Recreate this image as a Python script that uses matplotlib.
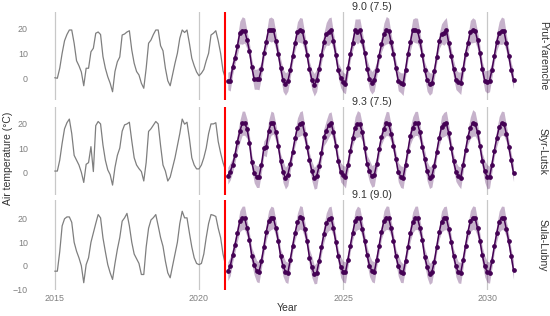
import numpy as np
import matplotlib.pyplot as plt
import matplotlib.transforms as mtransforms

plt.rcParams['font.family'] = ['Liberation Sans', 'DejaVu Sans']

stations = ['Prut-Yaremche', 'Styr-Lutsk', 'Sula-Lubny']
labels = ['9.0 (7.5)', '9.3 (7.5)', '9.1 (9.0)']

# observed monthly air temperature, Jan 2015 - Dec 2020
obs_prut = [0.2, 0.0, 4.0, 10.0, 15.0, 17.5, 19.3, 19.3, 14.0, 7.0, 5.0, 2.5,
            -3.0, 4.0, 4.0, 10.6, 12.0, 18.0, 18.5, 17.5, 8.7, 4.0, 0.6, -2.0,
            -5.4, 2.7, 6.6, 8.5, 17.3, 17.7, 18.5, 19.0, 11.3, 6.0, 2.7, 1.3,
            -2.0, -4.0, 4.0, 14.0, 15.3, 17.5, 19.3, 19.3, 13.0, 11.0, 4.0, -1.0,
            -3.0, 1.5, 6.0, 10.0, 16.0, 19.3, 18.3, 19.3, 14.0, 8.0, 5.0, 2.5,
            1.0, 2.0, 3.5, 7.0, 10.0, 17.3, 18.0, 19.0, 15.0, 10.0, 3.0, 0.0]
obs_styr = [0.5, 0.5, 5.0, 12.0, 18.0, 20.5, 22.0, 16.0, 7.0, 5.0, 3.0, 0.0,
            -4.2, 3.3, 4.0, 10.6, 0.3, 19.3, 21.0, 20.0, 11.3, 5.0, 1.0, -1.0,
            -5.3, 2.0, 7.0, 10.0, 17.0, 19.6, 20.0, 20.7, 13.0, 6.0, 3.0, 1.5,
            0.3, -3.6, 4.1, 16.9, 18.0, 19.5, 21.0, 20.0, 11.0, 3.0, 0.5, -3.6,
            -2.0, 2.0, 6.0, 11.0, 16.0, 22.0, 19.9, 20.7, 14.0, 6.0, 3.0, 1.4,
            1.4, 3.0, 6.0, 10.0, 16.0, 20.0, 20.0, 20.5, 12.7, 8.0, 4.0, 1.0]
obs_sula = [-2.3, -2.3, 6.0, 17.0, 20.0, 20.8, 20.8, 18.5, 10.0, 6.2, 3.4, 0.0,
            -7.2, 0.5, 3.4, 10.0, 14.0, 18.0, 21.8, 20.4, 11.9, 6.0, 0.5, -3.0,
            -5.8, 1.0, 7.0, 12.0, 19.0, 20.4, 22.3, 17.0, 10.0, 5.0, 3.0, 1.0,
            -3.7, -3.7, 8.0, 16.0, 19.5, 20.5, 21.8, 17.0, 12.0, 8.3, 2.0, -3.0,
            -5.1, 0.0, 5.0, 10.0, 18.0, 23.2, 20.4, 20.4, 14.0, 8.0, 3.4, 1.0,
            0.5, 1.0, 5.0, 12.0, 18.0, 21.8, 21.5, 21.0, 16.0, 12.0, 5.0, 0.5]

# forecast monthly mean, Jan 2021 - Dec 2030
fc_prut = [-1.1, -1.1, 4.4, 8.3, 12.9, 18.3, 19.1, 19.1, 15.3, 11.0, 4.4, -0.4,
           -0.4, -0.1, 3.6, 10.0, 14.7, 19.5, 19.5, 19.3, 15.0, 9.8, 4.2, -0.8,
           -2.3, -1.2, 3.2, 8.8, 14.2, 18.6, 19.3, 19.0, 14.6, 9.4, 3.6, -0.6,
           -2.6, -0.8, 3.8, 9.2, 14.6, 17.8, 18.6, 19.5, 14.8, 9.2, 3.2, 0.2,
           -1.6, -2.2, 4.0, 9.6, 14.2, 19.2, 18.7, 19.3, 15.1, 10.1, 3.9, -0.2,
           -1.8, -0.6, 3.5, 9.0, 13.6, 17.6, 19.2, 19.0, 14.4, 9.6, 4.1, -1.0,
           -1.8, -2.4, 3.3, 9.8, 14.4, 19.2, 19.2, 19.0, 15.0, 9.3, 3.4, -0.7,
           -2.3, -1.9, 2.8, 8.6, 14.8, 17.8, 18.2, 19.3, 14.1, 9.0, 3.8, -0.5,
           -1.5, -2.0, 3.6, 9.8, 14.0, 18.6, 19.2, 19.0, 15.2, 10.0, 3.6, -1.0,
           -1.4, -0.9, 3.4, 9.0, 14.6, 18.2, 19.0, 19.0, 14.0, 9.0, 3.3, -0.7]
fc_styr = [-1.4, 0.3, 3.0, 7.2, 12.7, 16.9, 20.3, 20.3, 18.0, 12.3, 4.1, -0.4,
           -1.8, -1.8, 3.0, 10.0, 10.4, 17.0, 20.3, 20.3, 16.5, 11.0, 4.5, 0.2,
           -2.4, -1.0, 3.5, 8.5, 14.0, 18.5, 20.0, 20.5, 16.0, 10.5, 5.0, 0.5,
           -2.5, -1.6, 2.5, 8.0, 14.5, 17.0, 19.5, 20.5, 16.5, 11.0, 4.5, 0.0,
           -1.2, -2.0, 3.0, 9.0, 14.0, 18.5, 20.0, 19.8, 16.5, 10.0, 3.5, 0.5,
           -1.7, -1.2, 3.5, 9.5, 14.5, 18.0, 20.2, 20.0, 16.0, 11.0, 5.5, 0.0,
           -1.8, -2.2, 3.0, 9.0, 15.0, 18.5, 20.2, 20.2, 16.5, 10.5, 5.5, 0.4,
           -2.2, -1.6, 2.8, 8.5, 14.0, 18.8, 19.8, 20.3, 16.2, 10.2, 4.6, 0.2,
           -1.5, -2.3, 3.2, 9.2, 14.6, 18.4, 20.4, 20.0, 16.6, 10.8, 4.8, 0.4,
           -1.9, -2.0, 3.2, 9.0, 14.2, 18.6, 20.3, 20.1, 16.0, 10.6, 5.0, -0.4]
fc_sula = [-2.3, -0.2, 4.5, 9.0, 14.0, 19.0, 20.4, 20.4, 16.0, 11.0, 4.1, 0.5,
           -2.3, -2.7, 2.0, 8.0, 14.5, 19.0, 20.4, 20.4, 16.0, 10.5, 4.0, 0.0,
           -2.5, -3.0, 2.5, 8.5, 14.0, 18.5, 20.6, 20.2, 15.5, 10.5, 3.5, -0.5,
           -3.7, -3.0, 2.0, 8.0, 13.5, 18.0, 20.0, 20.4, 16.0, 10.0, 4.0, -0.5,
           -2.5, -2.8, 2.5, 8.5, 14.0, 19.0, 20.4, 20.2, 15.5, 10.5, 4.5, 0.0,
           -2.3, -2.8, 2.5, 8.5, 14.5, 19.0, 20.5, 20.3, 16.0, 10.5, 4.0, 0.0,
           -2.6, -3.2, 2.0, 8.0, 14.0, 18.5, 20.4, 20.4, 16.2, 10.8, 3.8, -0.4,
           -3.4, -2.6, 1.8, 8.2, 14.2, 18.8, 20.2, 20.4, 15.8, 10.2, 4.2, -0.2,
           -2.8, -3.0, 2.4, 8.6, 14.4, 19.0, 20.5, 20.2, 16.0, 10.6, 4.4, -0.2,
           -2.6, -2.9, 2.2, 8.4, 14.0, 18.8, 20.4, 20.3, 15.6, 10.4, 4.2, -1.9]

# half width of the prediction band
hw_prut = [3.5, 4.0, 3.0, 2.5, 3.5, 4.5, 5.5, 5.0, 3.5, 3.0, 3.0, 4.0,
           4.0, 4.5, 3.0, 2.5, 3.0, 4.5, 5.0, 4.5, 3.5, 3.0, 3.5, 4.5,
           4.5, 4.0, 3.0, 2.5, 3.0, 4.0, 5.0, 5.0, 3.5, 3.0, 3.0, 4.0,
           4.5, 4.5, 3.0, 3.0, 3.5, 4.5, 5.5, 5.0, 3.5, 3.0, 3.0, 4.0,
           4.0, 4.0, 3.0, 2.5, 3.0, 4.5, 5.0, 4.5, 3.5, 3.0, 3.5, 4.5,
           4.5, 4.5, 3.0, 2.5, 3.0, 4.5, 5.5, 5.0, 3.5, 3.0, 3.0, 4.0,
           4.0, 4.5, 3.0, 2.5, 3.5, 4.5, 5.0, 5.0, 3.5, 3.0, 3.0, 4.5,
           4.5, 4.0, 3.0, 2.5, 3.0, 4.0, 5.0, 5.0, 3.5, 3.0, 3.5, 4.0,
           4.0, 4.5, 3.0, 2.5, 3.0, 4.5, 5.0, 4.5, 3.5, 3.0, 3.0, 4.0,
           4.5, 4.5, 3.0, 2.5, 3.5, 4.5, 5.5, 5.0, 3.5, 3.0, 3.0, 3.5]
hw_styr = [3.5, 3.5, 3.0, 3.0, 3.5, 4.5, 5.0, 5.0, 4.0, 3.0, 3.0, 4.0,
           4.5, 4.5, 3.0, 3.0, 4.0, 4.5, 5.0, 4.5, 3.5, 3.0, 3.0, 4.5,
           4.5, 4.5, 3.0, 2.5, 3.0, 4.0, 5.0, 5.0, 3.5, 3.0, 3.0, 4.0,
           4.5, 5.0, 3.0, 3.0, 3.5, 4.5, 5.0, 4.5, 3.5, 3.0, 3.0, 4.0,
           4.0, 4.5, 3.0, 2.5, 3.0, 4.5, 5.5, 5.0, 3.5, 3.0, 3.5, 4.5,
           4.5, 4.5, 3.0, 3.0, 3.0, 4.0, 5.0, 5.0, 3.5, 3.0, 3.0, 4.0,
           4.5, 4.5, 3.0, 2.5, 3.5, 4.5, 5.0, 5.0, 3.5, 3.0, 3.5, 4.0,
           4.5, 4.5, 3.0, 2.5, 3.0, 4.5, 5.0, 5.0, 3.5, 3.0, 3.0, 4.0,
           4.0, 4.5, 3.0, 2.5, 3.0, 4.5, 5.5, 5.0, 3.5, 3.0, 3.0, 4.5,
           5.0, 4.5, 3.0, 2.5, 3.5, 4.5, 5.0, 5.0, 3.5, 3.0, 3.0, 3.5]
hw_sula = [4.0, 4.0, 3.0, 3.0, 3.5, 4.5, 5.0, 5.0, 3.5, 3.0, 3.5, 4.5,
           4.5, 4.5, 3.0, 3.0, 3.5, 4.5, 5.0, 4.5, 3.5, 3.0, 3.0, 4.5,
           4.5, 4.5, 3.0, 2.5, 3.0, 4.0, 5.0, 5.0, 3.5, 3.0, 3.5, 4.5,
           4.0, 4.5, 3.0, 3.0, 3.5, 4.5, 5.0, 5.0, 3.5, 3.0, 3.0, 4.5,
           4.5, 4.5, 3.0, 2.5, 3.0, 4.5, 5.0, 4.5, 3.5, 3.0, 3.5, 4.5,
           4.5, 4.5, 3.0, 3.0, 3.0, 4.5, 5.0, 5.0, 3.5, 3.0, 3.0, 4.5,
           4.5, 4.0, 3.0, 2.5, 3.5, 4.5, 5.0, 5.0, 3.5, 3.0, 3.5, 4.5,
           4.5, 4.5, 3.0, 2.5, 3.0, 4.5, 5.0, 5.0, 3.5, 3.0, 3.0, 4.5,
           4.5, 4.5, 3.0, 2.5, 3.0, 4.5, 5.0, 5.0, 3.5, 3.0, 3.5, 4.5,
           4.5, 4.5, 3.0, 2.5, 3.5, 4.5, 5.0, 5.0, 3.5, 3.0, 3.0, 4.0]

observed = [obs_prut, obs_styr, obs_sula]
forecast = [fc_prut, fc_styr, fc_sula]
halfwidth = [hw_prut, hw_styr, hw_sula]
ylims = [(-8.7, 26.5), (-9.4, 27.0), (-10.3, 28.0)]

obs_t = 2015 + np.arange(len(obs_prut)) / 12
fc_t = 2021 + np.arange(len(fc_prut)) / 12
split = obs_t[-1]

purple = '#440154'
fig = plt.figure(figsize=(5.5, 3.16), dpi=100)
W, H = 550, 316
panels = [(12, 100), (107, 195), (200, 290)]

for i, (top, bot) in enumerate(panels):
    ax = fig.add_axes([32 / W, 1 - bot / H, (536.5 - 32) / W, (bot - top) / H])
    for yr in [2015, 2020, 2025, 2030]:
        ax.axvline(yr, color='#c8c8c8', lw=0.9, zorder=0)
    fc = np.array(forecast[i])
    hw = np.array(halfwidth[i])
    ax.fill_between(fc_t, fc - hw, fc + hw, color=purple, alpha=0.3, lw=0, zorder=1)
    ax.plot(obs_t, observed[i], color='#7f7f7f', lw=0.9, zorder=2)
    ax.plot(fc_t, fc, color=purple, lw=1.1, marker='o', ms=2.4, zorder=3)
    ax.axvline(split, color='#ff0000', lw=1.5, zorder=4)

    ax.set_xlim(2014.204, 2031.713)
    ax.set_ylim(*ylims[i])
    ax.set_yticks([-10, 0, 10, 20] if i == 2 else [0, 10, 20])
    ax.set_xticks([2015, 2020, 2025, 2030])
    for s in ax.spines.values():
        s.set_visible(False)
    ax.tick_params(length=0, labelsize=6.4, labelcolor='#7f7f7f', pad=3)
    if i < 2:
        ax.set_xticklabels([])
    fig.text(543 / W, 1 - (top + bot) / 2 / H, stations[i], rotation=270,
             ha='center', va='center', fontsize=7.5, color='#333333')
    trans = mtransforms.blended_transform_factory(ax.transData, ax.transAxes)
    ax.text(2026.0, 1.005, labels[i], transform=trans, ha='center', va='bottom',
            fontsize=7.7, color='#333333', clip_on=False)

fig.text(8 / W, 0.5, 'Air temperature (°C)', rotation=90, ha='center', va='center',
         fontsize=7.5, color='#333333')
fig.text(287 / W, 1 - 308 / H, 'Year', ha='center', va='center', fontsize=7.5,
         color='#333333')

fig.savefig('out.png', dpi=100)
